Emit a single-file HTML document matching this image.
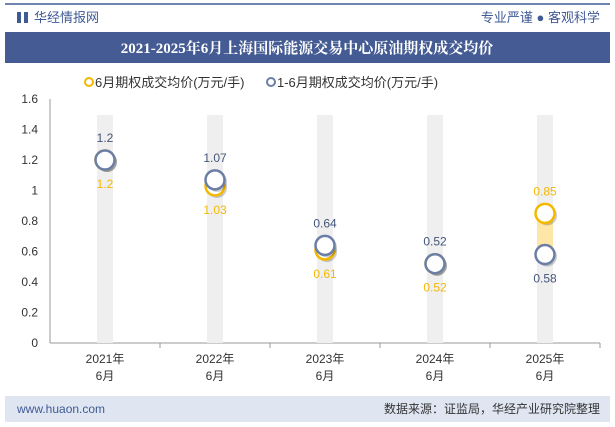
<!DOCTYPE html>
<html><head><meta charset="utf-8"><style>
body{margin:0;width:615px;height:427px;background:#fff;font-family:"Liberation Sans","Noto Sans CJK SC",sans-serif;overflow:hidden}
</style></head><body>
<svg width="615" height="427" style="position:absolute;left:0;top:0">
<line x1="5" y1="4" x2="610" y2="4" stroke="#3f5a94" stroke-width="1.5"/>
<g><rect x="17" y="12" width="4" height="11" fill="#3f5a94"/><rect x="24" y="12" width="4" height="11" fill="#3f5a94"/></g>
<text x="34" y="22" font-size="13" fill="#3f5a94">华经情报网</text>
<text x="600" y="22" font-size="13" fill="#3f5a94" text-anchor="end">专业严谨 ● 客观科学</text>
<rect x="5" y="32" width="605" height="31" fill="#445b93"/>
<text x="307" y="53" font-size="15" font-weight="bold" fill="#fff" text-anchor="middle" font-family="Liberation Serif,'Noto Serif CJK SC',serif">2021-2025年6月上海国际能源交易中心原油期权成交均价</text>
<g>
<circle cx="89" cy="82" r="4" fill="none" stroke="#f5b800" stroke-width="2"/>
<text x="95" y="87" font-size="13" fill="#333">6月期权成交均价(万元/手)</text>
<circle cx="271" cy="82" r="4" fill="none" stroke="#6b7ea5" stroke-width="2"/>
<text x="277" y="87" font-size="13" fill="#333">1-6月期权成交均价(万元/手)</text>
</g>
<g id="plot"></g>
<rect x="5" y="396" width="605" height="26" fill="#dfe6f2"/>
<text x="17" y="413" font-size="12" fill="#3f5a94">www.huaon.com</text>
<text x="600" y="413" font-size="12" fill="#333" text-anchor="end">数据来源：证监局，华经产业研究院整理</text>
</svg>
<script>
const categories=["2021年|6月","2022年|6月","2023年|6月","2024年|6月","2025年|6月"];
const juneValues=[1.2,1.03,0.61,0.52,0.85];
const ytdValues=[1.2,1.07,0.64,0.52,0.58];
const yTicks=[0,0.2,0.4,0.6,0.8,1,1.2,1.4,1.6];
const NS="http://www.w3.org/2000/svg";
const g=document.getElementById('plot');
const x0=50,x1=600,y0=343,y1=99;
const y=v=>y0-(v/1.6)*(y0-y1);
const step=(x1-x0)/categories.length;
const x=i=>x0+step*(i+0.5);
function mk(t,a,txt){const e=document.createElementNS(NS,t);for(const k in a)e.setAttribute(k,a[k]);if(txt!=null)e.textContent=txt;g.appendChild(e);return e;}
yTicks.forEach(t=>{const e=mk('text',{x:38,y:y(t)+4,'font-size':12,fill:'#333','text-anchor':'end'},String(t));

});
const ax=mk('line',{x1:x0,y1:y1,x2:x0,y2:y0,stroke:'#999'});


const bx=mk('line',{x1:x0,y1:y0,x2:x1,y2:y0,stroke:'#999'});


categories.forEach((c,i)=>{
const cx=x(i);
const band=mk('rect',{x:cx-8,y:115,width:16,height:y0-115,fill:'#efefef'});


const tk=mk('line',{x1:x0+step*(i+1),y1:y0,x2:x0+step*(i+1),y2:y0+5,stroke:'#999'});


const p=c.split('|');
const l1=mk('text',{x:cx,y:363,'font-size':12,fill:'#333','text-anchor':'middle'},p[0]);


const l2=mk('text',{x:cx,y:380,'font-size':12,fill:'#333','text-anchor':'middle'},p[1]);


const a=juneValues[i],b=ytdValues[i];
const conn=mk('rect',{x:cx-8,y:Math.min(y(a),y(b)),width:16,height:Math.abs(y(a)-y(b)),fill:'#fde6a6'});


});
categories.forEach((c,i)=>{
const cx=x(i),a=juneValues[i],b=ytdValues[i];
const ytdAbove=b>=a;
const s1=mk('circle',{cx:cx+2,cy:y(a)+2,r:10,fill:'rgba(0,0,0,0.2)'});


const m1=mk('circle',{cx:cx,cy:y(a),r:9.5,fill:'#fff',stroke:'#f5b800','stroke-width':2.5});


const s2=mk('circle',{cx:cx+2,cy:y(b)+2,r:10,fill:'rgba(0,0,0,0.2)'});


const m2=mk('circle',{cx:cx,cy:y(b),r:9.5,fill:'#fff',stroke:'#6b7ea5','stroke-width':2.5});


const t1=mk('text',{x:cx,y:ytdAbove?y(a)+28:y(a)-18,'font-size':12,fill:'#f5b800','text-anchor':'middle'},String(a));


const t2=mk('text',{x:cx,y:ytdAbove?y(b)-18:y(b)+28,'font-size':12,fill:'#44557a','text-anchor':'middle'},String(b));


});
</script>
</body></html>
